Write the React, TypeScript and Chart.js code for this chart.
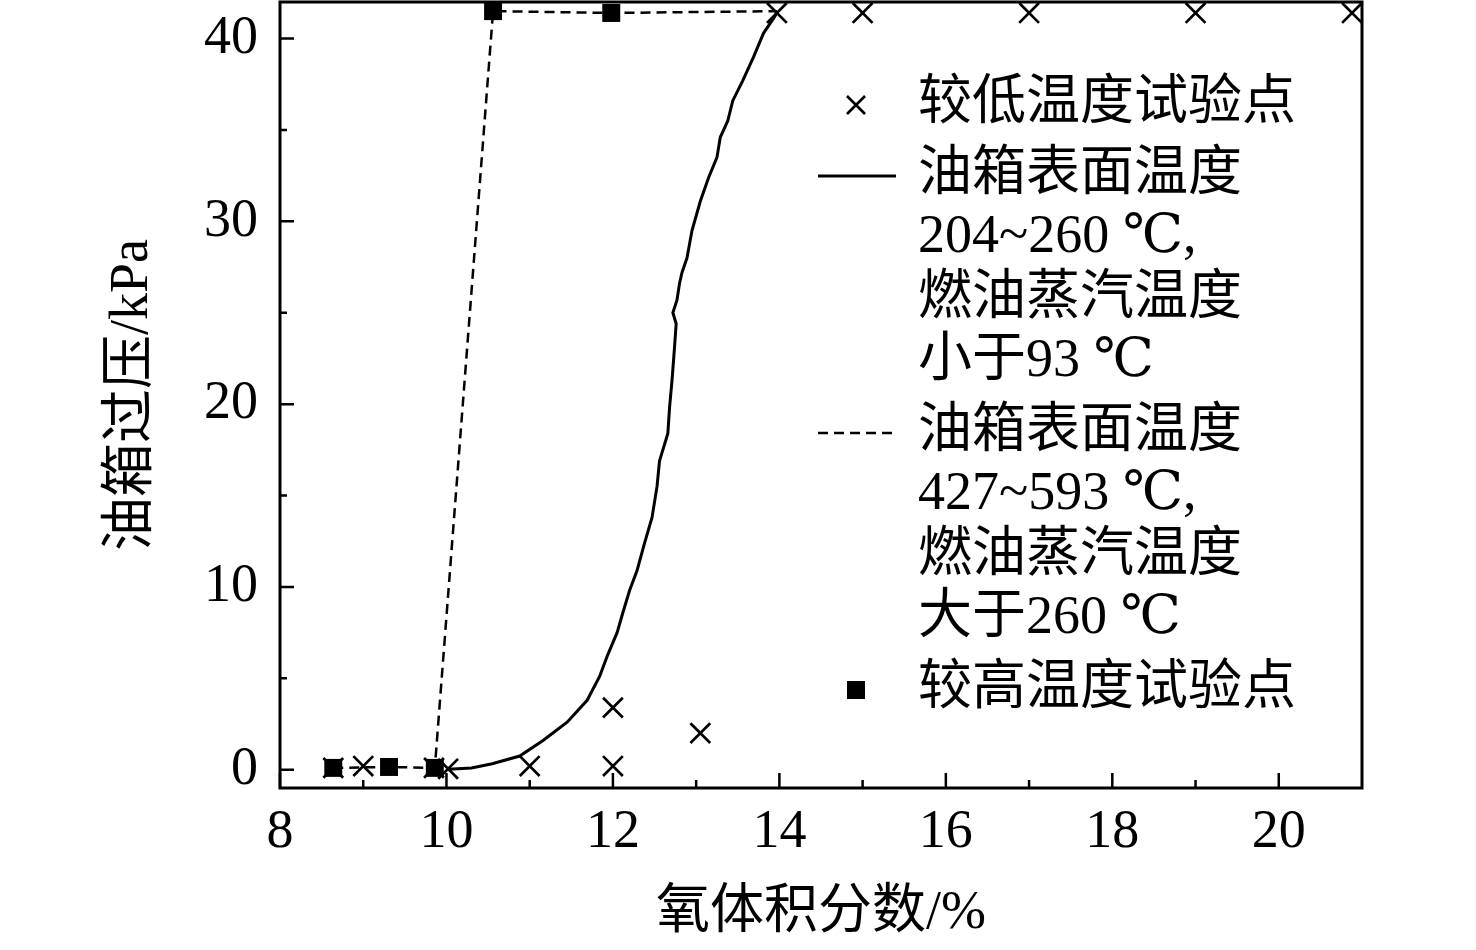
import React, { useEffect, useRef } from 'react';
import { Chart, registerables } from 'chart.js';

Chart.register(...registerables);

// 较低温度试验点 (× markers)
const lowTempX = [8.64, 9.0, 9.85, 10.02, 11.0, 12.0, 12.0, 13.05, 13.97, 15.0, 17.0, 19.0, 20.88];
const lowTempY = [0.1, 0.2, 0.1, 0.05, 0.2, 0.2, 3.4, 2.0, 41.4, 41.4, 41.4, 41.4, 41.4];

// 较高温度试验点 (■ markers)
const highTempX = [8.64, 9.31, 9.86, 10.56, 11.98];
const highTempY = [0.1, 0.15, 0.1, 41.5, 41.4];

// dashed curve: 油箱表面温度 427~593 ℃
const dashedX = [8.64, 9.31, 9.86, 10.56, 11.98, 13.97];
const dashedY = [0.1, 0.15, 0.1, 41.5, 41.4, 41.5];

// solid curve: 油箱表面温度 204~260 ℃
const solidX = [
  10.02, 10.3, 10.55, 10.88, 11.16, 11.45, 11.69, 11.84, 11.93, 12.05, 12.12, 12.2, 12.29, 12.38,
  12.47, 12.53, 12.56, 12.6, 12.66, 12.68, 12.71, 12.74, 12.76, 12.72, 12.77, 12.8, 12.83, 12.89,
  12.95, 13.05, 13.15, 13.25, 13.29, 13.38, 13.44, 13.56, 13.69, 13.81, 13.93, 13.97,
];
const solidY = [
  0.02, 0.1, 0.33, 0.75, 1.6, 2.6, 3.8, 5.1, 6.2, 7.5, 8.6, 9.8, 10.9, 12.4,
  13.8, 15.5, 16.9, 17.5, 18.4, 19.8, 21.3, 23.1, 24.4, 25.0, 25.7, 26.6, 27.2, 28.0,
  29.5, 31.1, 32.4, 33.5, 34.6, 35.5, 36.6, 37.7, 39.0, 40.3, 41.1, 41.4,
];

const xMajorTicks = [8, 10, 12, 14, 16, 18, 20];
const xMinorTicks = [9, 11, 13, 15, 17, 19];
const yMajorTicks = [0, 10, 20, 30, 40];
const yMinorTicks = [5, 15, 25, 35];

const xTitle = '氧体积分数/%';
const yTitle = '油箱过压/kPa';

const legendLow = ['较低温度试验点'];
const legendSolid = ['油箱表面温度', '204~260 ℃,', '燃油蒸汽温度', '小于93 ℃'];
const legendDashed = ['油箱表面温度', '427~593 ℃,', '燃油蒸汽温度', '大于260 ℃'];
const legendHigh = ['较高温度试验点'];

const FONT_FAMILY = '"Liberation Serif", "DejaVu Serif", "Noto Sans CJK SC", serif';
const FONT_SIZE = 54;

const toPoints = (xs: number[], ys: number[]) => xs.map((x, i) => ({ x, y: ys[i] }));

const drawCross = (ctx: CanvasRenderingContext2D, x: number, y: number, h: number) => {
  ctx.beginPath();
  ctx.moveTo(x - h, y - h);
  ctx.lineTo(x + h, y + h);
  ctx.moveTo(x + h, y - h);
  ctx.lineTo(x - h, y + h);
  ctx.stroke();
};

const frameAndLegend = {
  id: 'frameAndLegend',
  afterDraw(chart: Chart) {
    const { ctx, chartArea: a } = chart;
    const xs = chart.scales.x;
    const ys = chart.scales.y;
    ctx.save();
    ctx.strokeStyle = '#000';
    ctx.fillStyle = '#000';

    // inward tick marks
    ctx.lineWidth = 2.5;
    ctx.beginPath();
    xMajorTicks.forEach(v => {
      const px = xs.getPixelForValue(v);
      ctx.moveTo(px, a.bottom);
      ctx.lineTo(px, a.bottom - 15);
    });
    xMinorTicks.forEach(v => {
      const px = xs.getPixelForValue(v);
      ctx.moveTo(px, a.bottom);
      ctx.lineTo(px, a.bottom - 8);
    });
    yMajorTicks.forEach(v => {
      const py = ys.getPixelForValue(v);
      ctx.moveTo(a.left, py);
      ctx.lineTo(a.left + 14, py);
    });
    yMinorTicks.forEach(v => {
      const py = ys.getPixelForValue(v);
      ctx.moveTo(a.left, py);
      ctx.lineTo(a.left + 7, py);
    });
    ctx.stroke();

    // frame
    ctx.lineWidth = 3;
    ctx.strokeRect(a.left, a.top, a.right - a.left, a.bottom - a.top);

    // legend
    const symX = 856;
    const textX = 918;
    const lineH = 62;
    const gap = 9;
    ctx.font = `${FONT_SIZE}px ${FONT_FAMILY}`;
    ctx.textBaseline = 'middle';
    ctx.textAlign = 'left';

    let y = 105;
    const items: { lines: string[]; kind: string }[] = [
      { lines: legendLow, kind: 'cross' },
      { lines: legendSolid, kind: 'solid' },
      { lines: legendDashed, kind: 'dashed' },
      { lines: legendHigh, kind: 'square' },
    ];
    items.forEach(item => {
      ctx.setLineDash([]);
      if (item.kind === 'cross') {
        ctx.lineWidth = 2.7;
        drawCross(ctx, symX, y, 9);
      } else if (item.kind === 'square') {
        ctx.fillRect(symX - 9, y - 9, 18, 18);
      } else {
        ctx.lineWidth = item.kind === 'solid' ? 3 : 2.5;
        if (item.kind === 'dashed') ctx.setLineDash([10, 6]);
        ctx.beginPath();
        ctx.moveTo(818, y);
        ctx.lineTo(896, y);
        ctx.stroke();
      }
      ctx.setLineDash([]);
      item.lines.forEach((line, i) => {
        ctx.fillText(line, textX, y + i * lineH);
      });
      y += item.lines.length * lineH + gap;
    });

    ctx.restore();
  },
};

const App: React.FC = () => {
  const canvasRef = useRef<HTMLCanvasElement>(null);
  const chartRef = useRef<Chart | null>(null);

  useEffect(() => {
    if (!canvasRef.current) return;
    if (chartRef.current) chartRef.current.destroy();

    const font = { family: FONT_FAMILY, size: FONT_SIZE };

    chartRef.current = new Chart(canvasRef.current, {
      type: 'scatter',
      data: {
        datasets: [
          {
            label: '较低温度试验点',
            data: toPoints(lowTempX, lowTempY),
            pointStyle: 'crossRot',
            pointRadius: 14,
            pointBorderWidth: 2.7,
            borderColor: '#000',
            backgroundColor: '#000',
            showLine: false,
            clip: false,
            order: 4,
          },
          {
            label: '油箱表面温度 204~260 ℃',
            data: toPoints(solidX, solidY),
            showLine: true,
            borderColor: '#000',
            borderWidth: 3,
            pointRadius: 0,
            tension: 0,
            clip: false,
            order: 3,
          },
          {
            label: '油箱表面温度 427~593 ℃',
            data: toPoints(dashedX, dashedY),
            showLine: true,
            borderColor: '#000',
            borderWidth: 2.5,
            borderDash: [10, 6],
            pointRadius: 0,
            tension: 0,
            clip: false,
            order: 2,
          },
          {
            label: '较高温度试验点',
            data: toPoints(highTempX, highTempY),
            pointStyle: 'rect',
            pointRadius: 12.7,
            pointBorderWidth: 0,
            borderColor: '#000',
            backgroundColor: '#000',
            showLine: false,
            clip: false,
            order: 1,
          },
        ],
      },
      options: {
        responsive: true,
        maintainAspectRatio: false,
        animation: false,
        layout: { autoPadding: false, padding: { top: 2, right: 114, left: 0, bottom: 0 } },
        plugins: {
          legend: { display: false },
          tooltip: { enabled: false },
        },
        scales: {
          x: {
            type: 'linear',
            position: 'bottom',
            min: 8,
            max: 21,
            grid: { display: false, drawTicks: false },
            border: { display: false },
            ticks: { font, color: '#000', padding: 12 },
            title: { display: true, text: xTitle, font, color: '#000', padding: { top: 0, bottom: 4 } },
            afterBuildTicks: (scale: any) => {
              scale.ticks = xMajorTicks.map(v => ({ value: v }));
            },
            afterFit: (scale: any) => {
              scale.height = 162;
              scale.paddingLeft = 0;
              scale.paddingRight = 0;
            },
          },
          y: {
            type: 'linear',
            min: -1,
            max: 42,
            grid: { display: false, drawTicks: false },
            border: { display: false },
            ticks: { font, color: '#000', padding: 22 },
            title: { display: true, text: yTitle, font, color: '#000', padding: { top: 100, bottom: 0 } },
            afterBuildTicks: (scale: any) => {
              scale.ticks = yMajorTicks.map(v => ({ value: v }));
            },
            afterFit: (scale: any) => {
              scale.width = 280;
              scale.paddingTop = 0;
              scale.paddingBottom = 0;
            },
          },
        },
      },
      plugins: [frameAndLegend],
    });

    return () => {
      if (chartRef.current) {
        chartRef.current.destroy();
        chartRef.current = null;
      }
    };
  }, []);

  return (
    <div style={{ position: 'absolute', left: 0, top: 0, width: 1476, height: 950, background: '#fff' }}>
      <canvas ref={canvasRef}></canvas>
    </div>
  );
};

export default App;
